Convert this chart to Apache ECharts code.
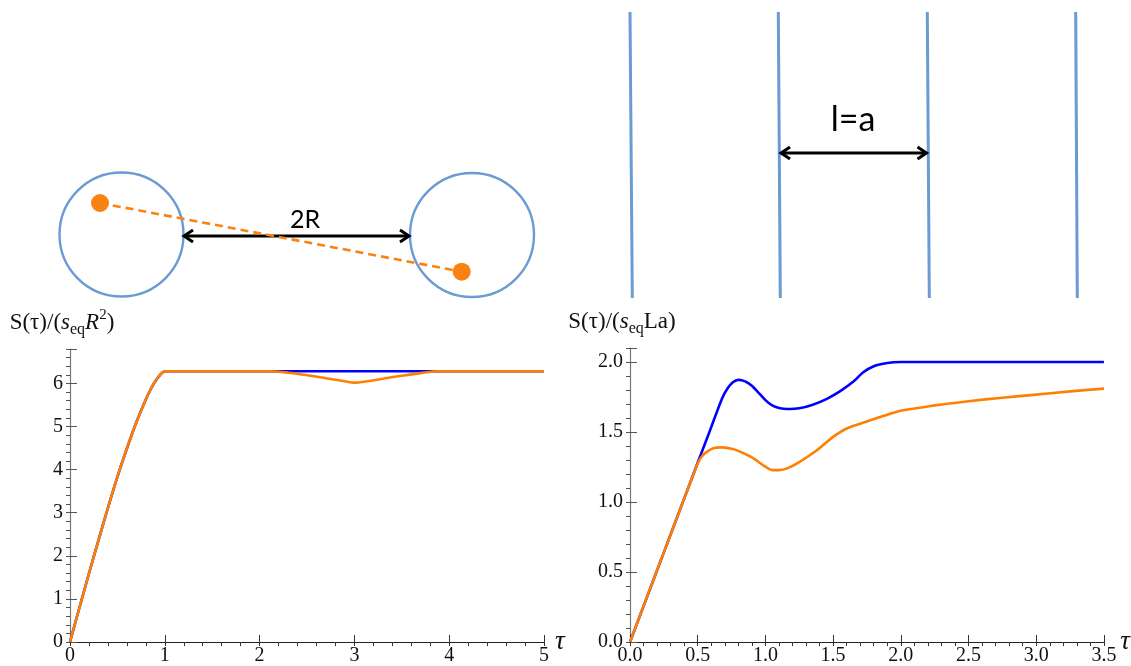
<!DOCTYPE html>
<html><head><meta charset="utf-8">
<script src="https://cdn.jsdelivr.net/npm/echarts@6/dist/echarts.min.js"></script>
<style>html,body{margin:0;padding:0;background:#fff}#c{width:1131px;height:666px}</style>
</head><body><div id="c"></div>
<script>
// ---- data ----
const leftXTicks = [0, 1, 2, 3, 4, 5];
const leftYTicks = [0, 1, 2, 3, 4, 5, 6];
const rightXTicks = [0, 0.5, 1, 1.5, 2, 2.5, 3, 3.5];
const rightYTicks = [0, 0.5, 1, 1.5, 2];

// left panel: two disks
const leftBlue = [[0,0],[0.1,0.80],[0.2,1.59],[0.3,2.36],[0.4,3.11],[0.5,3.83],[0.6,4.49],[0.7,5.10],
  [0.8,5.63],[0.85,5.86],[0.9,6.05],[0.95,6.20],[0.98,6.26],[1.0,6.283],[1.5,6.283],[2,6.283],[2.5,6.283],
  [3,6.283],[3.5,6.283],[4,6.283],[4.5,6.283],[5,6.283]];
const leftOrange = [[0,0],[0.1,0.80],[0.2,1.59],[0.3,2.36],[0.4,3.11],[0.5,3.83],[0.6,4.49],[0.7,5.10],
  [0.8,5.63],[0.85,5.86],[0.9,6.05],[0.95,6.20],[0.98,6.26],[1.0,6.283],[1.5,6.283],[2.1,6.283],[2.3,6.25],
  [2.5,6.19],[2.7,6.12],[2.9,6.05],[3.0,6.02],[3.1,6.04],[3.3,6.11],[3.5,6.18],[3.7,6.24],[3.88,6.283],
  [4.4,6.283],[5,6.283]];

// right panel: lines
const rightBlue = [[0,0],[0.1,0.256],[0.2,0.512],[0.3,0.768],[0.4,1.024],[0.5,1.28],[0.6,1.535],[0.68,1.74],
  [0.72,1.81],[0.76,1.855],[0.8,1.872],[0.85,1.862],[0.9,1.83],[0.95,1.78],[1.0,1.728],[1.05,1.69],
  [1.1,1.672],[1.16,1.664],[1.25,1.669],[1.35,1.695],[1.45,1.735],[1.55,1.79],[1.65,1.86],[1.72,1.925],
  [1.8,1.97],[1.9,1.993],[2.0,2.0],[2.5,2.0],[3.0,2.0],[3.5,2.0]];
const rightOrange = [[0,0],[0.1,0.256],[0.2,0.512],[0.3,0.768],[0.4,1.024],[0.47,1.20],[0.5,1.275],
  [0.53,1.325],[0.57,1.36],[0.62,1.385],[0.67,1.39],[0.75,1.38],[0.8,1.365],[0.9,1.318],[1.0,1.252],
  [1.05,1.228],[1.1,1.228],[1.16,1.24],[1.25,1.285],[1.38,1.37],[1.5,1.465],[1.6,1.525],[1.75,1.575],
  [1.87,1.614],[2.0,1.652],[2.25,1.69],[2.5,1.72],[2.75,1.745],[3.0,1.767],[3.25,1.79],[3.5,1.81]];

// ---- styling ----
const SERIF = '"Liberation Serif", "DejaVu Serif", serif';
const SANS = 'Lato, "Open Sans", sans-serif';
const BLUE = '#0000ff', ORANGE = '#ff8000', DIAG = '#6a9bd3', DOT = '#f98212';

function fmt(ticks, dec) {
  return v => {
    const t = ticks.find(t => Math.abs(t - v) < 1e-6);
    return t === undefined ? '' : t.toFixed(dec);
  };
}
function majorX(grid, max, interval, ticks, dec) {
  return {
    type: 'value', gridIndex: grid, min: 0, max: max, interval: interval,
    name: 'τ', nameLocation: 'end', nameGap: 11,
    nameTextStyle: { fontFamily: SERIF, fontSize: 27, fontStyle: 'italic', color: '#111', padding: [0,0,6,0] },
    axisLine: { onZero: false, lineStyle: { color: '#222', width: 1.2 } },
    axisTick: { inside: true, length: 7, lineStyle: { color: '#333' } },
    axisLabel: { fontFamily: SERIF, fontSize: 20, color: '#111', margin: 4, formatter: fmt(ticks, dec) },
    splitLine: { show: false }
  };
}
function minorX(grid, max, interval) {
  return {
    type: 'value', gridIndex: grid, min: 0, max: max, interval: interval,
    axisLine: { show: false }, axisLabel: { show: false }, splitLine: { show: false },
    axisTick: { inside: true, length: 4, lineStyle: { color: '#333' } }
  };
}
function majorY(grid, max, interval, ticks, dec, nameRich) {
  return {
    type: 'value', gridIndex: grid, min: 0, max: max, interval: interval,
    name: nameRich, nameLocation: 'end', nameGap: 11,
    nameTextStyle: {
      fontFamily: SERIF, fontSize: 23, color: '#111', lineHeight: 30, padding: [0, 16, 0, 0],
      rich: {
        n: { fontFamily: SERIF, fontSize: 23, color: '#111', lineHeight: 30 },
        i: { fontFamily: SERIF, fontSize: 23, color: '#111', lineHeight: 30, fontStyle: 'italic' },
        sub: { fontFamily: SERIF, fontSize: 16, color: '#111', lineHeight: 16, verticalAlign: 'bottom' },
        sup: { fontFamily: SERIF, fontSize: 15, color: '#111', lineHeight: 15, verticalAlign: 'top' }
      }
    },
    axisLine: { onZero: false, lineStyle: { color: '#777', width: 1.2 } },
    axisTick: { inside: true, length: 7, lineStyle: { color: '#555' } },
    axisLabel: { fontFamily: SERIF, fontSize: 20, color: '#111', margin: 7, formatter: fmt(ticks, dec) },
    splitLine: { show: false }
  };
}
function minorY(grid, max, interval) {
  return {
    type: 'value', gridIndex: grid, min: 0, max: max, interval: interval,
    axisLine: { show: false }, axisLabel: { show: false }, splitLine: { show: false },
    axisTick: { inside: true, length: 4, lineStyle: { color: '#555' } }
  };
}
function curve(data, color, xi, yi, z) {
  return {
    type: 'line', data: data, xAxisIndex: xi, yAxisIndex: yi, showSymbol: false, symbol: 'none',
    smooth: 0.3, z: z,
    lineStyle: { color: color, width: 2.6 }, animation: false
  };
}

const arrowHead = (x, y, dir) => ({
  type: 'polyline', shape: { points: [[x + dir * 9, y - 6], [x, y], [x + dir * 9, y + 6]] },
  style: { stroke: '#000', lineWidth: 3, fill: null, lineJoin: 'miter' }
});

const graphics = [
  // two-disk schematic
  { type: 'circle', shape: { cx: 121.5, cy: 234.5, r: 62 }, style: { fill: null, stroke: DIAG, lineWidth: 2.4 } },
  { type: 'circle', shape: { cx: 472, cy: 235, r: 62 }, style: { fill: null, stroke: DIAG, lineWidth: 2.4 } },
  { type: 'line', shape: { x1: 184, y1: 236, x2: 409, y2: 236 }, style: { stroke: '#000', lineWidth: 3 } },
  arrowHead(184, 236, 1), arrowHead(409, 236, -1),
  { type: 'line', shape: { x1: 100, y1: 203, x2: 461.7, y2: 271.7 }, style: { stroke: DOT, lineWidth: 2.6, lineDash: [8, 5] }, z: 5 },
  { type: 'circle', shape: { cx: 100, cy: 203, r: 9 }, style: { fill: DOT }, z: 6 },
  { type: 'circle', shape: { cx: 461.7, cy: 271.7, r: 9 }, style: { fill: DOT }, z: 6 },
  { type: 'text', x: 305, y: 220, style: { text: '2R', fontFamily: SANS, fontSize: 25, fill: '#000', align: 'center', verticalAlign: 'middle' } },
  // parallel-lines schematic
  { type: 'line', shape: { x1: 630, y1: 12, x2: 632.3, y2: 298 }, style: { stroke: DIAG, lineWidth: 3 } },
  { type: 'line', shape: { x1: 778.3, y1: 12, x2: 780.3, y2: 298 }, style: { stroke: DIAG, lineWidth: 3 } },
  { type: 'line', shape: { x1: 927.3, y1: 12, x2: 929.3, y2: 298 }, style: { stroke: DIAG, lineWidth: 3 } },
  { type: 'line', shape: { x1: 1075.7, y1: 12, x2: 1077.3, y2: 298 }, style: { stroke: DIAG, lineWidth: 3 } },
  { type: 'line', shape: { x1: 781, y1: 153, x2: 926.5, y2: 153 }, style: { stroke: '#000', lineWidth: 3 } },
  arrowHead(781, 153, 1), arrowHead(926.5, 153, -1),
  { type: 'text', x: 853, y: 120, style: { text: 'l=a', fontFamily: SANS, fontSize: 34, fill: '#000', align: 'center', verticalAlign: 'middle' } }
];

const chart = echarts.init(document.getElementById('c'), null, { renderer: 'canvas' });
chart.setOption({
  backgroundColor: '#fff',
  animation: false,
  grid: [
    { left: 70, right: 1131 - 544, top: 349, bottom: 666 - 642 },
    { left: 630, right: 1131 - 1104, top: 348, bottom: 666 - 642 }
  ],
  xAxis: [
    majorX(0, 5, 1, leftXTicks, 0), minorX(0, 5, 0.2),
    majorX(1, 3.5, 0.5, rightXTicks, 1), minorX(1, 3.5, 0.1)
  ],
  yAxis: [
    majorY(0, 6.8, 1, leftYTicks, 0, '{n|S(τ)/(}{i|s}{sub|eq}{i|R}{sup|2}{n|)}'), minorY(0, 6.8, 0.2),
    majorY(1, 2.1, 0.5, rightYTicks, 1, '{n|S(τ)/(}{i|s}{sub|eq}{n|La)}'), minorY(1, 2.1, 0.1)
  ],
  series: [
    curve(leftBlue, BLUE, 0, 0, 2),
    curve(leftOrange, ORANGE, 0, 0, 3),
    curve(rightBlue, BLUE, 2, 2, 2),
    curve(rightOrange, ORANGE, 2, 2, 3)
  ],
  graphic: graphics
});
</script></body></html>
